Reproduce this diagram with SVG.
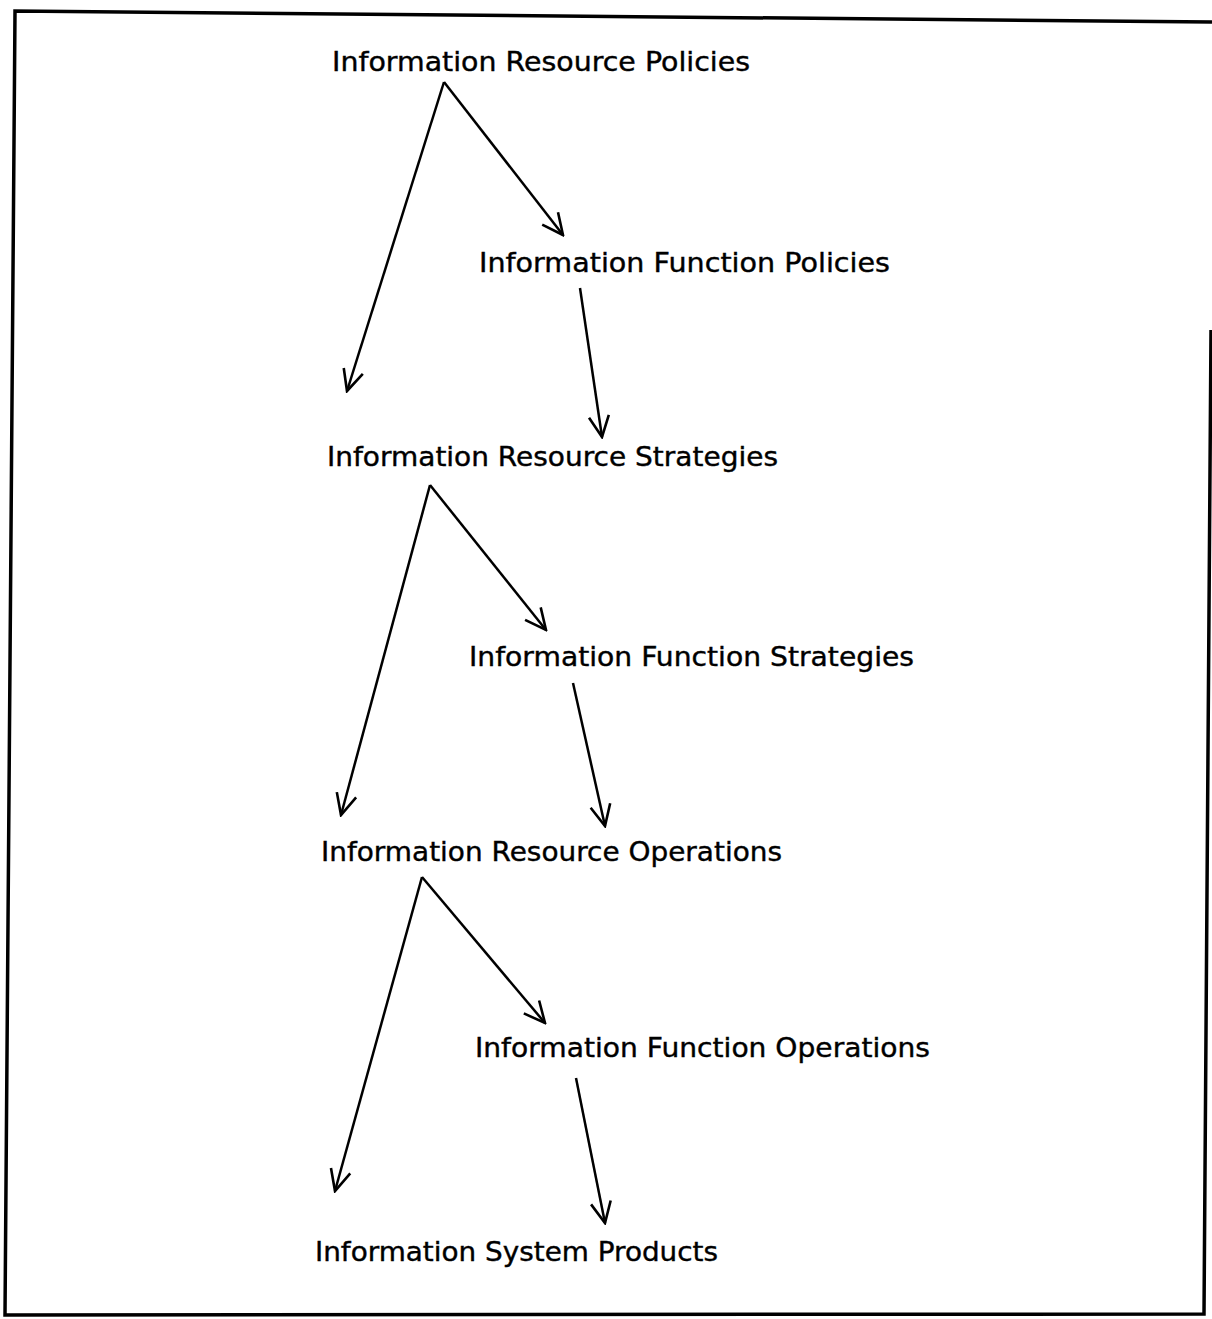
<svg xmlns="http://www.w3.org/2000/svg" width="1212" height="1319" viewBox="0 0 1212 1319">
<style>
.lbl{font-family:"DejaVu Sans","Liberation Sans",sans-serif;font-size:27px;fill:#000;stroke:#000;stroke-width:0.4}
.con{stroke:#000;stroke-width:2.5;fill:none;marker-end:url(#ah)}
.frame{stroke:#000;stroke-width:3.5;fill:none}
</style>
<defs>
<marker id="ah" viewBox="0 0 24 24" refX="22" refY="12" markerWidth="24" markerHeight="24" markerUnits="userSpaceOnUse" orient="auto">
<path d="M1,2 L22,12 L1,22" stroke="#000" stroke-width="2.6" fill="none"/>
</marker>
</defs>
<rect width="1212" height="1319" fill="#fff"/>
<path class="frame" d="M1212,22 L15,11 L5,1315 L1204,1314 L1211,330"/>
<g id="connectors">
<line class="con" x1="444" y1="82" x2="347" y2="391"/>
<line class="con" x1="444" y1="82" x2="563" y2="235"/>
<line class="con" x1="580" y1="288" x2="602" y2="437"/>
<line class="con" x1="430" y1="485" x2="341" y2="815"/>
<line class="con" x1="430" y1="485" x2="546" y2="630"/>
<line class="con" x1="573" y1="683" x2="605" y2="826"/>
<line class="con" x1="422" y1="877" x2="335" y2="1191"/>
<line class="con" x1="422" y1="877" x2="545" y2="1023"/>
<line class="con" x1="576" y1="1078" x2="605" y2="1223"/>
</g>
<g id="n1"><text class="lbl" x="332" y="71" textLength="418" lengthAdjust="spacingAndGlyphs">Information Resource Policies</text></g>
<g id="n2"><text class="lbl" x="479" y="272" textLength="411" lengthAdjust="spacingAndGlyphs">Information Function Policies</text></g>
<g id="n3"><text class="lbl" x="327" y="466" textLength="451" lengthAdjust="spacingAndGlyphs">Information Resource Strategies</text></g>
<g id="n4"><text class="lbl" x="469" y="666" textLength="445" lengthAdjust="spacingAndGlyphs">Information Function Strategies</text></g>
<g id="n5"><text class="lbl" x="321" y="861" textLength="461" lengthAdjust="spacingAndGlyphs">Information Resource Operations</text></g>
<g id="n6"><text class="lbl" x="475" y="1057" textLength="455" lengthAdjust="spacingAndGlyphs">Information Function Operations</text></g>
<g id="n7"><text class="lbl" x="315" y="1261" textLength="403" lengthAdjust="spacingAndGlyphs">Information System Products</text></g>
</svg>
